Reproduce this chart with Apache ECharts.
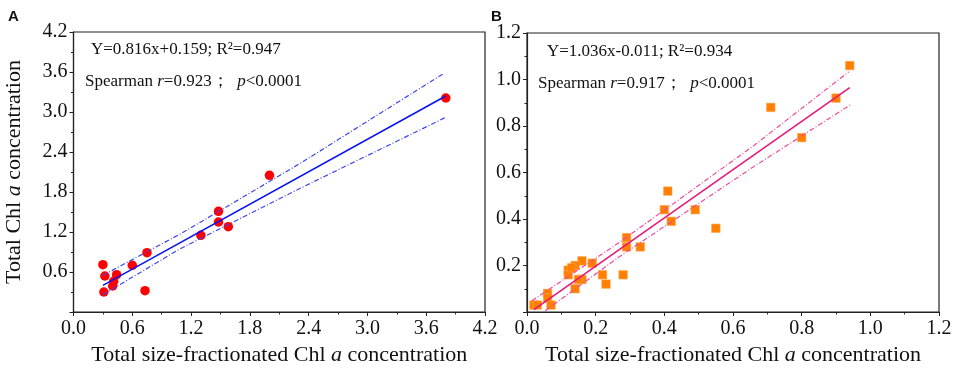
<!DOCTYPE html>
<html>
<head>
<meta charset="utf-8">
<script src="https://cdn.jsdelivr.net/npm/echarts@6/dist/echarts.min.js"></script>
<style>
html, body { margin: 0; background: #fff; }
#chart { width: 957px; height: 371px; }
</style>
</head>
<body>
<div id="chart"></div>
<script>
// 面板A：总粒级叶绿素 vs 总叶绿素
const aX = [0.30, 0.32, 0.31, 0.44, 0.41, 0.40, 0.60, 0.75, 0.73, 1.30, 1.48, 1.48, 1.58, 2.00, 3.80];
const aY = [0.71, 0.54, 0.30, 0.56, 0.46, 0.39, 0.70, 0.89, 0.32, 1.15, 1.51, 1.35, 1.28, 2.05, 3.21];
// 回归线和置信带
const fitA = [[0.30, 0.40], [3.80, 3.24]];
const upperA = [[0.30, 0.55], [1.09, 1.17], [2.32, 2.235], [3.77, 3.57]];
const lowerA = [[0.30, 0.26], [1.09, 0.95], [2.32, 1.86], [3.80, 2.92]];

// 面板B
const bX = [0.94, 0.71, 0.90, 0.80, 0.41, 0.40, 0.42, 0.49, 0.55, 0.29, 0.29, 0.33, 0.28, 0.22, 0.23,
  0.19, 0.16, 0.14, 0.12, 0.12, 0.13, 0.14, 0.16, 0.15, 0.06, 0.06, 0.07, 0.02, 0.03];
const bY = [1.06, 0.88, 0.92, 0.75, 0.52, 0.44, 0.39, 0.44, 0.36, 0.32, 0.28, 0.28, 0.16, 0.16, 0.12,
  0.21, 0.22, 0.20, 0.18, 0.16, 0.19, 0.10, 0.14, 0.14, 0.08, 0.06, 0.03, 0.03, 0.03];
const fitB = [[0.02, 0.01], [0.94, 0.965]];
const upperB = [[0.014, 0.048], [0.27, 0.30], [0.66, 0.715], [0.937, 1.033]];
const lowerB = [[0.053, 0.005], [0.27, 0.239], [0.66, 0.625], [0.942, 0.891]];

const ticksA = [0, 4.2, 0.6];
const ticksB = [0, 1.2, 0.2];
const xName = '{n|Total size-fractionated Chl }{i|a}{n| concentration}';
const yNameA = '{n|Total Chl }{i|a}{n| concentration}';
const noteA = ['Y=0.816x+0.159; R²=0.947', '{n|Spearman }{i|r}{n|=0.923；  }{i|p}{n|<0.0001}'];
const noteB = ['Y=1.036x-0.011; R²=0.934', '{n|Spearman }{i|r}{n|=0.917；  }{i|p}{n|<0.0001}'];

const serif = '"Liberation Serif", "Times New Roman", serif';
const chart = echarts.init(document.getElementById('chart'));

const nameRich = {
  n: { fontFamily: serif, fontSize: 22, color: '#111' },
  i: { fontFamily: serif, fontSize: 22, color: '#111', fontStyle: 'italic' }
};
const noteRich = {
  n: { fontFamily: serif, fontSize: 17, color: '#111' },
  i: { fontFamily: serif, fontSize: 17, color: '#111', fontStyle: 'italic' }
};

function xAxisOf(idx, t) {
  return {
    type: 'value', gridIndex: idx, min: t[0], max: t[1], interval: t[2],
    name: xName, nameLocation: 'middle', nameGap: 32,
    nameTextStyle: { rich: nameRich },
    axisLine: { show: true, onZero: false, lineStyle: { color: '#222', width: 1.2 } },
    axisTick: { show: true, length: 4, lineStyle: { color: '#222' } },
    minorTick: { show: true, splitNumber: 2, length: 2.5, lineStyle: { color: '#222' } },
    splitLine: { show: false },
    axisLabel: { fontFamily: serif, fontSize: 20, color: '#111', margin: 7,
      formatter: v => v.toFixed(1) }
  };
}
function yAxisOf(idx, t, name) {
  return {
    type: 'value', gridIndex: idx, min: t[0], max: t[1], interval: t[2],
    name: name, nameLocation: 'middle', nameGap: 48,
    nameTextStyle: { rich: nameRich },
    axisLine: { show: true, onZero: false, lineStyle: { color: '#222', width: 1.2 } },
    axisTick: { show: true, length: 4, lineStyle: { color: '#222' } },
    minorTick: { show: true, splitNumber: 2, length: 2.5, lineStyle: { color: '#222' } },
    splitLine: { show: false },
    axisLabel: { fontFamily: serif, fontSize: 20, color: '#111', margin: 6,
      formatter: v => (v === 0 ? '' : v.toFixed(1)) }
  };
}
function band(data, idx, color) {
  return {
    type: 'line', xAxisIndex: idx, yAxisIndex: idx, data: data, showSymbol: false,
    silent: true, lineStyle: { color: color, width: 1.2, type: [5, 2, 1, 2] }
  };
}
function note(text, left, top) {
  return { text: text, left: left, top: top,
    textStyle: { fontFamily: serif, fontSize: 17, fontWeight: 'normal', color: '#111', rich: noteRich } };
}

const option = {
  backgroundColor: '#fff',
  animation: false,
  title: [
    { text: 'A', left: 3, top: 4, textStyle: { fontFamily: '"Liberation Sans", Arial', fontSize: 15, fontWeight: 'bold', color: '#111' } },
    { text: 'B', left: 486, top: 4, textStyle: { fontFamily: '"Liberation Sans", Arial', fontSize: 15, fontWeight: 'bold', color: '#111' } },
    note(noteA[0], 86, 36),
    note(noteA[1], 80, 68),
    note(noteB[0], 542, 38),
    note(noteB[1], 533, 70)
  ],
  grid: [
    { left: 73.5, top: 32, width: 411.5, height: 282, show: true, borderColor: '#222', borderWidth: 1.2 },
    { left: 527, top: 33, width: 412, height: 281, show: true, borderColor: '#222', borderWidth: 1.2 }
  ],
  xAxis: [xAxisOf(0, ticksA), xAxisOf(1, ticksB)],
  yAxis: [yAxisOf(0, ticksA, yNameA), yAxisOf(1, ticksB, '')],
  series: [
    {
      type: 'scatter', xAxisIndex: 0, yAxisIndex: 0, symbol: 'circle', symbolSize: 9.5,
      itemStyle: { color: '#ff0000', opacity: 1 },
      data: aX.map((x, i) => [x, aY[i]])
    },
    {
      type: 'line', xAxisIndex: 0, yAxisIndex: 0, data: fitA, showSymbol: false,
      lineStyle: { color: '#0a14f0', width: 1.6 }
    },
    band(upperA, 0, '#3c46f0'),
    band(lowerA, 0, '#3c46f0'),
    {
      type: 'scatter', xAxisIndex: 1, yAxisIndex: 1, symbol: 'rect', symbolSize: 8.5,
      itemStyle: { color: '#ff8000', borderColor: '#ffa850', borderWidth: 0.6, opacity: 1 },
      data: bX.map((x, i) => [x, bY[i]])
    },
    {
      type: 'line', xAxisIndex: 1, yAxisIndex: 1, data: fitB, showSymbol: false,
      lineStyle: { color: '#e8187a', width: 1.6 }
    },
    band(upperB, 1, '#ee4aa0'),
    band(lowerB, 1, '#ee4aa0')
  ]
};

chart.setOption(option);
</script>
</body>
</html>
